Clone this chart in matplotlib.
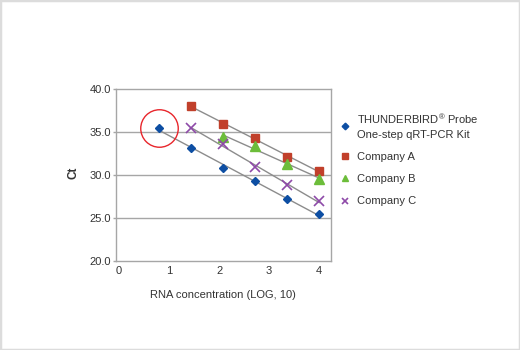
import matplotlib
matplotlib.use("Agg")
import matplotlib.pyplot as plt
import numpy as np
from matplotlib.patches import Rectangle

plt.rcParams['font.family'] = ['Liberation Sans', 'DejaVu Sans']
plt.rcParams['mathtext.fontset'] = 'custom'
plt.rcParams['mathtext.rm'] = 'Liberation Sans'

# data
x_thunder = [0.80, 1.44, 2.08, 2.72, 3.36, 4.00]
ct_thunder = [35.45, 33.15, 30.8, 29.3, 27.2, 25.4]
x_a = [1.44, 2.08, 2.72, 3.36, 4.00]
ct_a = [38.0, 35.9, 34.3, 32.1, 30.4]
x_b = [2.08, 2.72, 3.36, 4.00]
ct_b = [34.4, 33.3, 31.3, 29.5]
x_c = [1.44, 2.08, 2.72, 3.36, 4.00]
ct_c = [35.4, 33.6, 30.95, 28.8, 26.9]

labels = ["THUNDERBIRD$^{\\mathregular{®}}$ Probe\nOne-step qRT-PCR Kit",
          "Company A", "Company B", "Company C"]
xticks = [0, 1, 2, 3, 4]
yticks = [20, 25, 30, 35, 40]

fig = plt.figure(figsize=(5.2, 3.5), dpi=100)
ax = fig.add_axes([0.223, 0.255, 0.413, 0.491])

text_color = '#333333'
frame_color = '#a6a6a6'

for y in [25, 30, 35]:
    ax.axhline(y, color=frame_color, lw=1, zorder=1)

series = [
    (x_thunder, ct_thunder, 'D', '#0d4ea3', 4.5, labels[0]),
    (x_a, ct_a, 's', '#c1402b', 6.0, labels[1]),
    (x_b, ct_b, '^', '#6cbd3a', 6.5, labels[2]),
    (x_c, ct_c, 'x', '#8e4aa8', 6.5, labels[3]),
]
handles = []
for xs, ys, m, c, ms, lab in series:
    xs = np.array(xs); ys = np.array(ys)
    k, b = np.polyfit(xs, ys, 1)
    xx = np.array([xs.min(), xs.max()])
    ax.plot(xx, k * xx + b, color='#8c8c8c', lw=1, zorder=2)
    if m == 'x':
        h, = ax.plot(xs, ys, m, color=c, ms=ms, mew=1.2, zorder=3, label=lab)
    else:
        h, = ax.plot(xs, ys, m, color=c, mec=c, ms=ms, zorder=3, label=lab)
    handles.append(h)

# red circle highlight around first THUNDERBIRD point
ax.plot([x_thunder[0]], [ct_thunder[0]], 'o', ms=27, mfc='none', mec='#e8262c', mew=1, zorder=4)

ax.set_xlim(-0.06, 4.23)
ax.set_ylim(20, 40)
ax.set_xticks(xticks)
ax.set_yticks(yticks)
ax.set_yticklabels([f"{v:.1f}" for v in yticks])
ax.tick_params(axis='x', length=0, pad=4, labelsize=8, colors=text_color)
ax.tick_params(axis='y', length=2.5, width=1, pad=1, labelsize=8, colors=text_color)
ax.tick_params(axis='y', color=frame_color)
for s in ax.spines.values():
    s.set_color(frame_color)
    s.set_linewidth(1)

ax.set_xlabel("RNA concentration (LOG, 10)", fontsize=8, color=text_color, labelpad=10)
ax.set_ylabel("Ct", fontsize=8.5, color=text_color, fontweight='bold')
ax.yaxis.set_label_coords(-0.17, 0.514)

leg = fig.legend(handles=handles, loc='upper left', bbox_to_anchor=(0.645, 0.692),
                 frameon=False, fontsize=8, handlelength=1.0, handletextpad=0.5,
                 labelspacing=1.1, borderaxespad=0, labelcolor=text_color,
                 markerscale=0.75)
for t in leg.get_texts():
    t.set_linespacing(1.45)

fig.patches.append(Rectangle((0, 0), 1, 1, transform=fig.transFigure, fill=False,
                             edgecolor='#dcdcdc', lw=2.5))

fig.savefig("out.png", dpi=100)
